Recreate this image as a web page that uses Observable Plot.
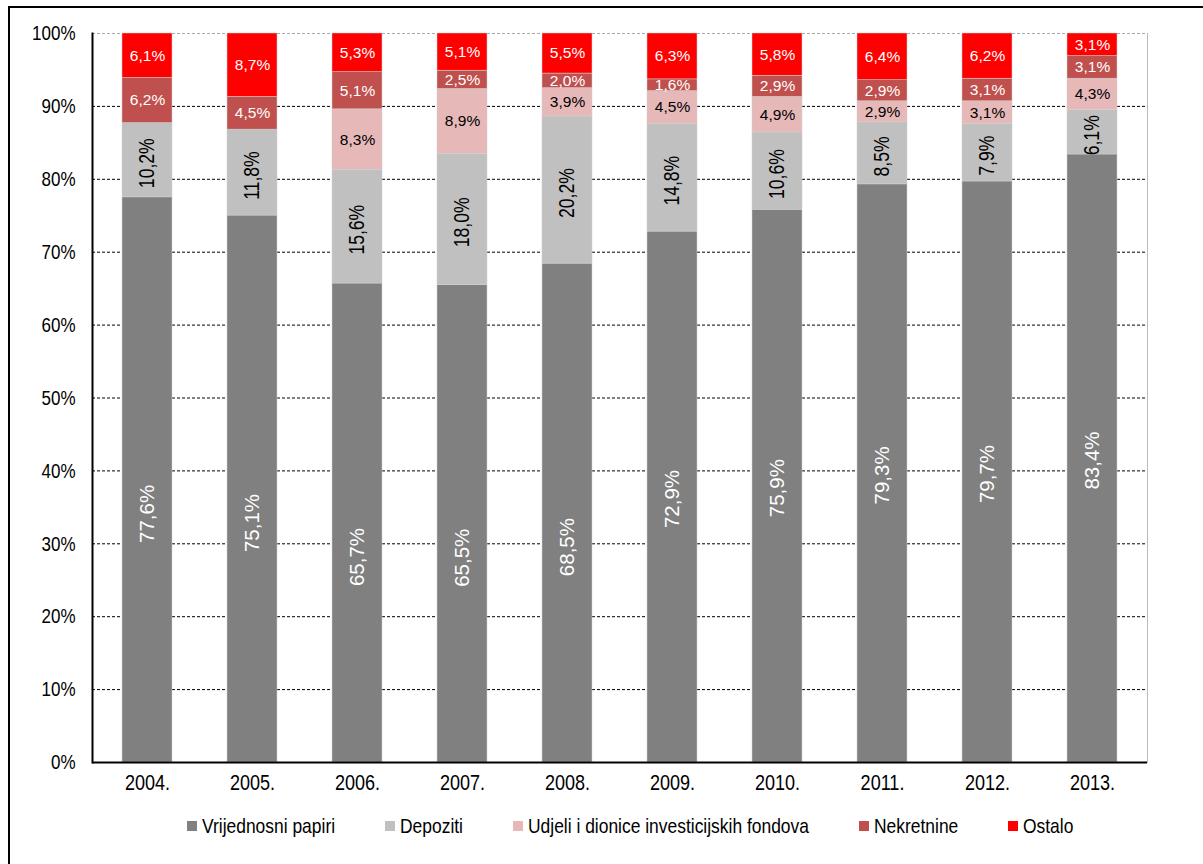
<!DOCTYPE html>
<html><head><meta charset="utf-8">
<script src="https://cdn.jsdelivr.net/npm/d3@7"></script>
<script src="https://cdn.jsdelivr.net/npm/@observablehq/plot@0.6"></script>
<style>
body{margin:0;background:#fff;font-family:"Liberation Sans",Arial,sans-serif;width:1203px;height:864px;overflow:hidden;position:relative;}
#frame{position:absolute;left:8px;top:6px;width:1300px;height:1000px;border-left:2px solid #000;border-top:2px solid #000;}
#chart{position:absolute;left:0;top:0;}
#legend{position:absolute;left:92px;width:1076px;top:814px;display:flex;justify-content:center;gap:50px;font-size:21px;color:#000;}
#legend .item{display:flex;align-items:center;white-space:nowrap;}
#legend .sw{width:10px;height:10px;display:inline-block;margin-right:5px;}
#legend .tx{display:inline-block;transform:scaleX(0.83);transform-origin:left center;}
</style>
</head><body>
<div id="frame"></div>
<div id="chart"></div>
<div id="legend"></div>
<script>
const years = ["2004.","2005.","2006.","2007.","2008.","2009.","2010.","2011.","2012.","2013."];
const series = ["Vrijednosni papiri","Depoziti","Udjeli i dionice investicijskih fondova","Nekretnine","Ostalo"];
const vrijednosni = [77.6,75.1,65.7,65.5,68.5,72.9,75.9,79.3,79.7,83.4];
const depoziti = [10.2,11.8,15.6,18.0,20.2,14.8,10.6,8.5,7.9,6.1];
const udjeli = [0,0,8.3,8.9,3.9,4.5,4.9,2.9,3.1,4.3];
const nekretnine = [6.2,4.5,5.1,2.5,2.0,1.6,2.9,2.9,3.1,3.1];
const ostalo = [6.1,8.7,5.3,5.1,5.5,6.3,5.8,6.4,6.2,3.1];
const colors = ["#808080","#C0C0C0","#E6B9B8","#C0504D","#FF0000"];
const yTicks = [0,0.1,0.2,0.3,0.4,0.5,0.6,0.7,0.8,0.9,1];
// years whose "Vrijednosni papiri" label sits lower in the segment
const lowLabelYears = ["2004.","2005.","2006.","2007.","2008."];

const values = [vrijednosni, depoziti, udjeli, nekretnine, ostalo];
const data = [];
years.forEach((y, i) => series.forEach((s, j) => data.push({year: y, series: s, value: values[j][i]})));

const fmt = v => v.toFixed(1).replace(".", ",") + "%";
const lab = (names, yrs) => d => (names.includes(d.series) && d.value > 0 && (!yrs || yrs.includes(d.year))) ? fmt(d.value) : "";
const st = (extra) => Plot.stackY({x: "year", y: "value", z: "series", order: series, offset: "normalize", ...extra});

const chart = Plot.plot({
  width: 1203,
  height: 800,
  marginTop: 33,
  marginBottom: 38,
  marginLeft: 92,
  marginRight: 56,
  style: {fontFamily: "'Liberation Sans', Arial, sans-serif", fontSize: "17px", color: "#000", background: "transparent"},
  x: {domain: years, paddingInner: 0.526, paddingOuter: 0.263, label: null},
  y: {domain: [0, 1], label: null},
  color: {domain: series, range: colors},
  marks: [
    Plot.ruleY(yTicks.filter(t => t > 0 && t < 1), {stroke: "#000", strokeDasharray: "3,2", strokeWidth: 1}),
    Plot.ruleY([1], {stroke: "#aaa", strokeDasharray: "3,2", strokeWidth: 1}),
    Plot.frame({anchor: "right", stroke: "#bbb"}),
    Plot.barY(data, st({fill: "series", stroke: "#d0d0d0", strokeWidth: 0.5})),
    Plot.text(data, st({text: lab(["Vrijednosni papiri"], lowLabelYears), rotate: -90, fill: "#fff", fontSize: 20.5, dy: 34})),
    Plot.text(data, st({text: lab(["Vrijednosni papiri"], years.filter(y => !lowLabelYears.includes(y))), rotate: -90, fill: "#fff", fontSize: 20.5, dy: 2})),
    Plot.text(data, st({text: lab(["Depoziti"]), rotate: -90, fill: "#000", fontSize: 21.2, dy: 3})),
    Plot.text(data, st({text: lab(["Udjeli i dionice investicijskih fondova"]), fill: "#000", fontSize: 15.5})),
    Plot.text(data, st({text: lab(["Nekretnine", "Ostalo"]), fill: "#fff", fontSize: 15.5})),
    Plot.axisY({ticks: yTicks, tickFormat: d => Math.round(d * 100) + "%", tickSize: 0, tickPadding: 17, fontSize: 21}),
    Plot.axisX({tickSize: 0, tickPadding: 12, fontSize: 22}),
    Plot.ruleY([0], {stroke: "#000", strokeWidth: 2}),
    Plot.frame({anchor: "left", stroke: "#000", strokeWidth: 2})
  ]
});
document.getElementById("chart").appendChild(chart);

// horizontally condense the tall text (as in the reference rendering)
const sxBySize = {"21px": 0.81, "22px": 0.82, "21.2px": 0.83};
chart.querySelectorAll("text").forEach(el => {
  const sx = sxBySize[getComputedStyle(el).fontSize];
  if (!sx) return;
  const xa = el.getAttribute("x");
  let x = 0;
  if (xa != null && /^-?[\d.]+$/.test(xa.trim())) { x = +xa; el.removeAttribute("x"); }
  const t = el.getAttribute("transform") || "";
  el.setAttribute("transform", `${t} translate(${x},0) scale(${sx},1)`);
});

const legend = document.getElementById("legend");
series.forEach((s, i) => {
  const item = document.createElement("div");
  item.className = "item";
  const sw = document.createElement("span");
  sw.className = "sw";
  sw.style.background = colors[i];
  const t = document.createElement("span");
  t.className = "tx";
  t.textContent = s;
  item.appendChild(sw);
  item.appendChild(t);
  legend.appendChild(item);
  t.style.marginRight = (-t.offsetWidth * 0.17) + "px";
});
</script>
</body></html>
